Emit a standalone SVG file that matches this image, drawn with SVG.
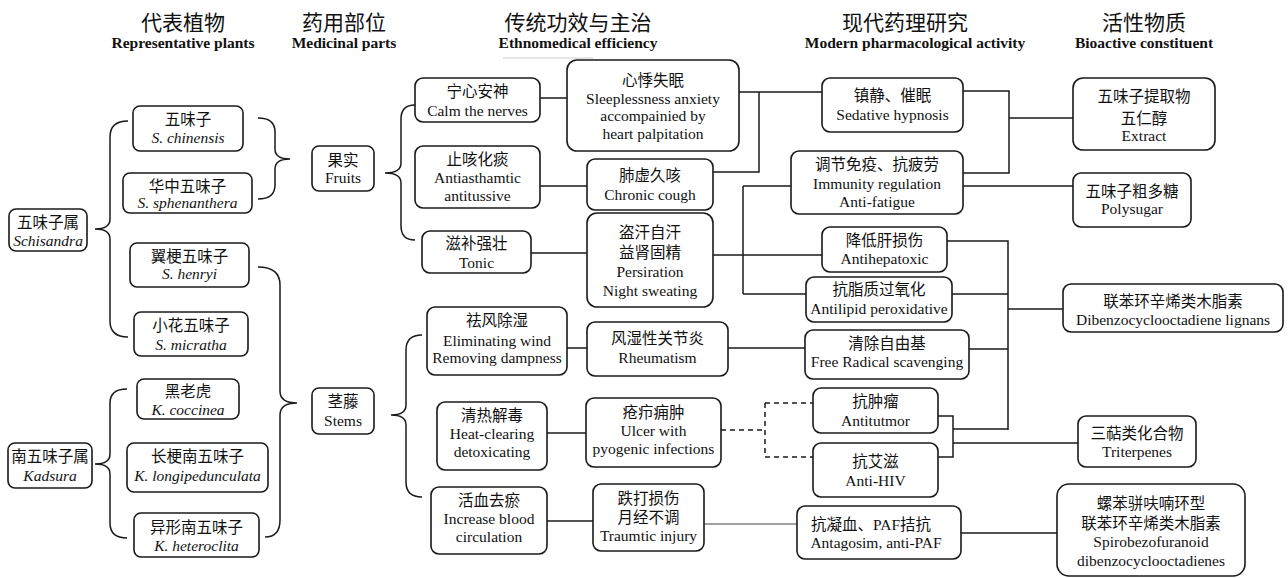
<svg xmlns="http://www.w3.org/2000/svg" width="1288" height="578" viewBox="0 0 1288 578">
<style>
.bx{fill:#fff;stroke:#1a1a1a;stroke-width:1.6}
.t{font-family:"Liberation Serif","Noto Sans CJK SC",serif;font-size:15.5px;text-anchor:middle;fill:#111}
.i{font-style:italic}
.h1{font-family:"Noto Sans CJK SC",sans-serif;font-size:21px;text-anchor:middle;fill:#111}
.h2{font-family:"Liberation Serif",serif;font-weight:bold;font-size:15.5px;text-anchor:middle;fill:#111}
.ln{fill:none;stroke:#1a1a1a;stroke-width:1.5}
.thin{fill:none;stroke:#444;stroke-width:1}
.dash{stroke-dasharray:5 4}
</style>
<rect width="1288" height="578" fill="#fff"/>
<g id="headers">
<text class="h1" x="183" y="30">代表植物</text>
<text class="h2" x="183" y="48">Representative plants</text>
<text class="h1" x="344" y="30">药用部位</text>
<text class="h2" x="344" y="48">Medicinal parts</text>
<text class="h1" x="578" y="30">传统功效与主治</text>
<text class="h2" x="578" y="48">Ethnomedical efficiency</text>
<text class="h1" x="905" y="30">现代药理研究</text>
<text class="h2" x="915" y="48">Modern pharmacological activity</text>
<text class="h1" x="1144" y="30">活性物质</text>
<text class="h2" x="1144" y="48">Bioactive constituent</text>
<line x1="503" y1="58" x2="593" y2="58" stroke="#ccc" stroke-width="1"/>
</g>
<g id="connectors">
<path class="ln" d="M128,121 Q110,121 110,137 L110,219 Q110,229 95,229 Q110,229 110,239 L110,321 Q110,337 128,337"/>
<path class="ln" d="M258,118 Q275,118 275,132 L275,149 Q275,159 290,159 Q275,159 275,169 L275,185 Q275,199 258,199"/>
<path class="ln" d="M258,267 Q280,267 280,285 L280,391 Q280,403 297,403 Q280,403 280,415 L280,520 Q280,537 265,537"/>
<path class="ln" d="M127,389 Q110,389 110,403 L110,454 Q110,464 95,464 Q110,464 110,474 L110,523 Q110,538 127,538"/>
<path class="ln" d="M415,105 Q401,105 401,119 L401,163 Q401,173 385,173 Q401,173 401,183 L401,226 Q401,240 415,240"/>
<path class="ln" d="M422,335 Q406,335 406,350 L406,405 Q406,415 391,415 Q406,415 406,425 L406,482 Q406,497 422,497"/>
<path class="ln" d="M540,98 H567 M540,186 H587 M531,253 H587"/>
<path class="ln" d="M739,92 H822 M713,172 H759 V92"/>
<path class="ln" d="M713,255 H822 M743,186 V294 M743,186 H791 M743,294 H806"/>
<path class="ln" d="M963,91 H1009 V173 H963 M1009,118 H1073 M963,186 H1073"/>
<path class="ln" d="M947,241 H1008 V430 M952,294 H1008 M969,349 H1008 M1008,309 H1063"/>
<path class="ln" d="M567,348 H587 M728,348 H805"/>
<path class="ln" d="M547,433 H586"/>
<path class="ln dash" d="M721,430 H765 M765,403 V457 M765,403 H813 M765,457 H813"/>
<path class="ln" d="M938,416 H953 V457 H938 M953,429 H1008 M953,443 H1078"/>
<path class="ln" d="M547,521 H593"/>
<path class="thin" d="M704,524 H797"/>
<path class="ln" d="M961,533 H1057"/>
</g>
<g id="n-schisandra"><rect class="bx" x="9" y="209" width="78" height="42" rx="7"/><text class="t" x="48" y="228">五味子属</text><text class="t i" x="48" y="246">Schisandra</text></g>
<g id="n-chinensis"><rect class="bx" x="133" y="106" width="110" height="45" rx="7"/><text class="t" x="188" y="125">五味子</text><text class="t i" x="188" y="143">S. chinensis</text></g>
<g id="n-sphenanthera"><rect class="bx" x="123" y="173" width="129" height="40" rx="7"/><text class="t" x="187.5" y="192">华中五味子</text><text class="t i" x="187.5" y="208">S. sphenanthera</text></g>
<g id="n-henryi"><rect class="bx" x="130" y="243" width="119" height="44" rx="7"/><text class="t" x="189.5" y="262">翼梗五味子</text><text class="t i" x="189.5" y="279">S. henryi</text></g>
<g id="n-micratha"><rect class="bx" x="134" y="312" width="114" height="44" rx="7"/><text class="t" x="191" y="331">小花五味子</text><text class="t i" x="191" y="350">S. micratha</text></g>
<g id="n-coccinea"><rect class="bx" x="137" y="379" width="102" height="40" rx="7"/><text class="t" x="188" y="397">黑老虎</text><text class="t i" x="188" y="415">K. coccinea</text></g>
<g id="n-kadsura"><rect class="bx" x="8" y="443" width="84" height="45" rx="7"/><text class="t" x="50" y="462">南五味子属</text><text class="t i" x="50" y="481">Kadsura</text></g>
<g id="n-longipedunculata"><rect class="bx" x="127" y="443" width="141" height="49" rx="7"/><text class="t" x="197.5" y="462">长梗南五味子</text><text class="t i" x="197.5" y="481">K. longipedunculata</text></g>
<g id="n-heteroclita"><rect class="bx" x="134" y="513" width="125" height="44" rx="7"/><text class="t" x="196.5" y="533">异形南五味子</text><text class="t i" x="196.5" y="551">K. heteroclita</text></g>
<g id="n-fruits"><rect class="bx" x="312" y="146" width="62" height="45" rx="7"/><text class="t" x="343" y="166">果实</text><text class="t" x="343" y="183">Fruits</text></g>
<g id="n-stems"><rect class="bx" x="312" y="388" width="62" height="46" rx="7"/><text class="t" x="343" y="407">茎藤</text><text class="t" x="343" y="426">Stems</text></g>
<g id="n-calm"><rect class="bx" x="415" y="78" width="125" height="44" rx="8"/><text class="t" x="477.5" y="97">宁心安神</text><text class="t" x="477.5" y="116">Calm the nerves</text></g>
<g id="n-antiasthamtic"><rect class="bx" x="415" y="146" width="125" height="62" rx="8"/><text class="t" x="477.5" y="165">止咳化痰</text><text class="t" x="477.5" y="183">Antiasthamtic</text><text class="t" x="477.5" y="201">antitussive</text></g>
<g id="n-tonic"><rect class="bx" x="422" y="231" width="109" height="42" rx="8"/><text class="t" x="476.5" y="249">滋补强壮</text><text class="t" x="476.5" y="268">Tonic</text></g>
<g id="n-sleepless"><rect class="bx" x="567" y="60" width="172" height="91" rx="10"/><text class="t" x="653" y="86">心悸失眠</text><text class="t" x="653" y="104">Sleeplessness anxiety</text><text class="t" x="653" y="121">accompainied by</text><text class="t" x="653" y="139">heart palpitation</text></g>
<g id="n-cough"><rect class="bx" x="587" y="159" width="126" height="51" rx="8"/><text class="t" x="650" y="181">肺虚久咳</text><text class="t" x="650" y="200">Chronic cough</text></g>
<g id="n-sweat"><rect class="bx" x="587" y="213" width="126" height="94" rx="10"/><text class="t" x="650" y="238">盗汗自汗</text><text class="t" x="650" y="258">益肾固精</text><text class="t" x="650" y="277">Persiration</text><text class="t" x="650" y="296">Night sweating</text></g>
<g id="n-wind"><rect class="bx" x="427" y="307" width="140" height="68" rx="8"/><text class="t" x="497" y="326">祛风除湿</text><text class="t" x="497" y="346">Eliminating wind</text><text class="t" x="497" y="363">Removing dampness</text></g>
<g id="n-rheum"><rect class="bx" x="587" y="322" width="141" height="54" rx="8"/><text class="t" x="657.5" y="344">风湿性关节炎</text><text class="t" x="657.5" y="363">Rheumatism</text></g>
<g id="n-heat"><rect class="bx" x="437" y="402" width="110" height="68" rx="8"/><text class="t" x="492" y="421">清热解毒</text><text class="t" x="492" y="439">Heat-clearing</text><text class="t" x="492" y="457">detoxicating</text></g>
<g id="n-ulcer"><rect class="bx" x="586" y="398" width="135" height="69" rx="8"/><text class="t" x="653.5" y="418">疮疖痈肿</text><text class="t" x="653.5" y="436">Ulcer with</text><text class="t" x="653.5" y="454">pyogenic infections</text></g>
<g id="n-blood"><rect class="bx" x="431" y="487" width="116" height="67" rx="8"/><text class="t" x="489" y="506">活血去瘀</text><text class="t" x="489" y="524">Increase blood</text><text class="t" x="489" y="542">circulation</text></g>
<g id="n-injury"><rect class="bx" x="593" y="484" width="111" height="67" rx="8"/><text class="t" x="648.5" y="504">跌打损伤</text><text class="t" x="648.5" y="523">月经不调</text><text class="t" x="648.5" y="541">Traumtic injury</text></g>
<g id="n-sedative"><rect class="bx" x="822" y="78" width="141" height="54" rx="8"/><text class="t" x="892.5" y="101">镇静、催眠</text><text class="t" x="892.5" y="120">Sedative hypnosis</text></g>
<g id="n-immunity"><rect class="bx" x="791" y="151" width="172" height="63" rx="8"/><text class="t" x="877" y="170">调节免疫、抗疲劳</text><text class="t" x="877" y="189">Immunity regulation</text><text class="t" x="877" y="207">Anti-fatigue</text></g>
<g id="n-hepato"><rect class="bx" x="822" y="227" width="125" height="45" rx="8"/><text class="t" x="884.5" y="246">降低肝损伤</text><text class="t" x="884.5" y="264">Antihepatoxic</text></g>
<g id="n-lipid"><rect class="bx" x="806" y="277" width="146" height="45" rx="8"/><text class="t" x="879" y="295">抗脂质过氧化</text><text class="t" x="879" y="314">Antilipid peroxidative</text></g>
<g id="n-radical"><rect class="bx" x="805" y="330" width="164" height="49" rx="8"/><text class="t" x="887" y="349">清除自由基</text><text class="t" x="887" y="367">Free Radical scavenging</text></g>
<g id="n-tumor"><rect class="bx" x="813" y="388" width="125" height="45" rx="8"/><text class="t" x="875.5" y="407">抗肿瘤</text><text class="t" x="875.5" y="426">Antitutmor</text></g>
<g id="n-hiv"><rect class="bx" x="813" y="443" width="125" height="54" rx="8"/><text class="t" x="875.5" y="467">抗艾滋</text><text class="t" x="875.5" y="486">Anti-HIV</text></g>
<g id="n-paf"><rect class="bx" x="797" y="506" width="164" height="53" rx="8"/><text class="t" x="871" y="530">抗凝血、PAF拮抗</text><text class="t" x="876" y="548">Antagosim, anti-PAF</text></g>
<g id="n-extract"><rect class="bx" x="1073" y="78" width="142" height="72" rx="10"/><text class="t" x="1144" y="102">五味子提取物</text><text class="t" x="1144" y="124">五仁醇</text><text class="t" x="1144" y="141">Extract</text></g>
<g id="n-polysugar"><rect class="bx" x="1073" y="173" width="118" height="54" rx="8"/><text class="t" x="1132" y="197">五味子粗多糖</text><text class="t" x="1132" y="214">Polysugar</text></g>
<g id="n-lignans"><rect class="bx" x="1063" y="284" width="220" height="48" rx="8"/><text class="t" x="1173" y="307">联苯环辛烯类木脂素</text><text class="t" x="1173" y="325">Dibenzocyclooctadiene lignans</text></g>
<g id="n-triterpenes"><rect class="bx" x="1078" y="416" width="118" height="51" rx="8"/><text class="t" x="1137" y="439">三萜类化合物</text><text class="t" x="1137" y="457">Triterpenes</text></g>
<g id="n-spiro"><rect class="bx" x="1057" y="484" width="188" height="92" rx="12"/><text class="t" x="1151" y="509">螺苯骈呋喃环型</text><text class="t" x="1151" y="529">联苯环辛烯类木脂素</text><text class="t" x="1151" y="547">Spirobezofuranoid</text><text class="t" x="1151" y="566">dibenzocyclooctadienes</text></g>
</svg>
